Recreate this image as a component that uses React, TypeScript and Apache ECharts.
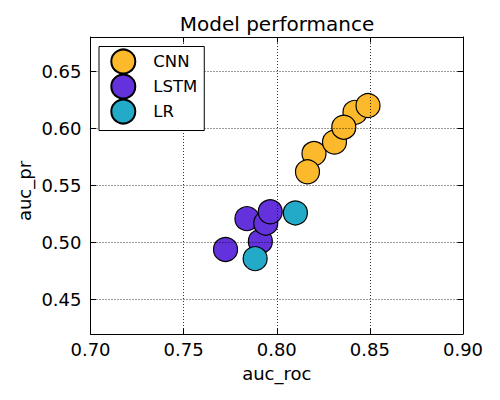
import React, { useEffect, useRef } from "react";
import * as echarts from "echarts";

const seriesNames = ["CNN", "LSTM", "LR"];
const seriesColors = ["#fdb92c", "#6432dc", "#22aac8"];

const cnnX = [0.820, 0.8165, 0.831, 0.842, 0.836, 0.849];
const cnnY = [0.578, 0.562, 0.588, 0.614, 0.601, 0.620];
const lstmX = [0.7725, 0.7912, 0.784, 0.7941, 0.7965];
const lstmY = [0.494, 0.501, 0.521, 0.517, 0.527];
const lrX = [0.810, 0.7884];
const lrY = [0.526, 0.486];

const xTicks = [0.7, 0.75, 0.8, 0.85, 0.9];
const yTicks = [0.45, 0.5, 0.55, 0.6, 0.65];

const titleText = "Model performance";
const xName = "auc_roc";
const yName = "auc_pr";

const FONT = "DejaVu Sans";

function pairs(xs: number[], ys: number[]) {
  return xs.map((x, i) => [x, ys[i]]);
}

export default function App() {
  const ref = useRef<HTMLDivElement>(null);
  useEffect(() => {
    if (!ref.current) return;
    const chart = echarts.init(ref.current, null, { renderer: "svg" });
    const tickCommon = {
      show: true,
      inside: true,
      length: 5.5,
      lineStyle: { color: "#000", width: 1 },
    };
    const axisLineCommon = { show: true, lineStyle: { color: "#000", width: 1 } };
    const splitCommon = {
      show: true,
      lineStyle: { color: "#000", width: 0.8, type: [1, 2] as any },
    };
    const datasets = [pairs(cnnX, cnnY), pairs(lstmX, lstmY), pairs(lrX, lrY)];
    chart.setOption({
      animation: false,
      backgroundColor: "#fff",
      textStyle: { fontFamily: FONT },
      grid: {
        left: 90.5,
        right: 37,
        top: 37,
        bottom: 66,
        containLabel: false,
        outerBoundsMode: "none",
      } as any,
      xAxis: [
        {
          type: "value",
          position: "bottom",
          min: xTicks[0],
          max: xTicks[xTicks.length - 1],
          interval: 0.05,
          z: 3,
          axisLine: axisLineCommon,
          axisTick: tickCommon,
          splitLine: splitCommon,
          axisLabel: {
            show: true,
            margin: 6,
            color: "#000",
            fontSize: 18,
            fontFamily: FONT,
            formatter: (v: number) => v.toFixed(2),
          },
          name: xName,
          nameLocation: "middle",
          nameGap: 30,
          nameTextStyle: { color: "#000", fontSize: 18, fontFamily: FONT },
        },
        {
          type: "value",
          position: "top",
          min: xTicks[0],
          max: xTicks[xTicks.length - 1],
          interval: 0.05,
          z: 3,
          axisLine: axisLineCommon,
          axisTick: tickCommon,
          splitLine: { show: false },
          axisLabel: { show: false },
        },
      ],
      yAxis: [
        {
          type: "value",
          position: "left",
          min: 0.42,
          max: 0.68,
          z: 3,
          axisLine: axisLineCommon,
          axisTick: { ...tickCommon, customValues: yTicks },
          splitLine: splitCommon,
          axisLabel: {
            show: true,
            customValues: yTicks,
            margin: 9,
            color: "#000",
            fontSize: 18,
            fontFamily: FONT,
            formatter: (v: number) => v.toFixed(2),
          },
        },
        {
          type: "value",
          position: "right",
          min: 0.42,
          max: 0.68,
          z: 3,
          axisLine: axisLineCommon,
          axisTick: { ...tickCommon, customValues: yTicks },
          splitLine: { show: false },
          axisLabel: { show: false },
        },
      ],
      legend: {
        orient: "vertical",
        left: 99,
        top: 46.5,
        padding: [2, 7, 6, 11.3],
        itemWidth: 24,
        itemHeight: 24,
        itemGap: -1,
        backgroundColor: "#fff",
        borderColor: "#000",
        borderWidth: 1,
        borderRadius: 0,
        z: 10,
        data: seriesNames.map((n) => ({ name: n, icon: "circle" })),
        textStyle: {
          color: "#000",
          fontSize: 16.5,
          lineHeight: 18,
          fontFamily: FONT,
          padding: [0, 0, 0, 13],
        },
      },
      graphic: [
        {
          type: "text",
          x: 277,
          y: 24,
          z: 10,
          style: {
            text: titleText,
            fill: "#000",
            fontSize: 20,
            fontFamily: FONT,
            textAlign: "center",
            textVerticalAlign: "middle",
          },
        },
        {
          type: "text",
          x: 24.5,
          y: 191,
          rotation: Math.PI / 2,
          z: 10,
          style: {
            text: yName,
            fill: "#000",
            fontSize: 18,
            fontFamily: FONT,
            textAlign: "center",
            textVerticalAlign: "middle",
          },
        },
      ],
      series: datasets.map((d, i) => ({
        name: seriesNames[i],
        type: "scatter",
        xAxisIndex: 0,
        yAxisIndex: 0,
        symbol: "circle",
        symbolSize: 24,
        data: d,
        z: 2,
        itemStyle: {
          color: seriesColors[i],
          borderColor: "#000",
          borderWidth: 1.2,
          opacity: 1,
        },
        emphasis: { disabled: true },
      })),
    });
    return () => chart.dispose();
  }, []);
  return (
    <div
      ref={ref}
      style={{ position: "fixed", left: 0, top: 0, width: 500, height: 400 }}
    />
  );
}
